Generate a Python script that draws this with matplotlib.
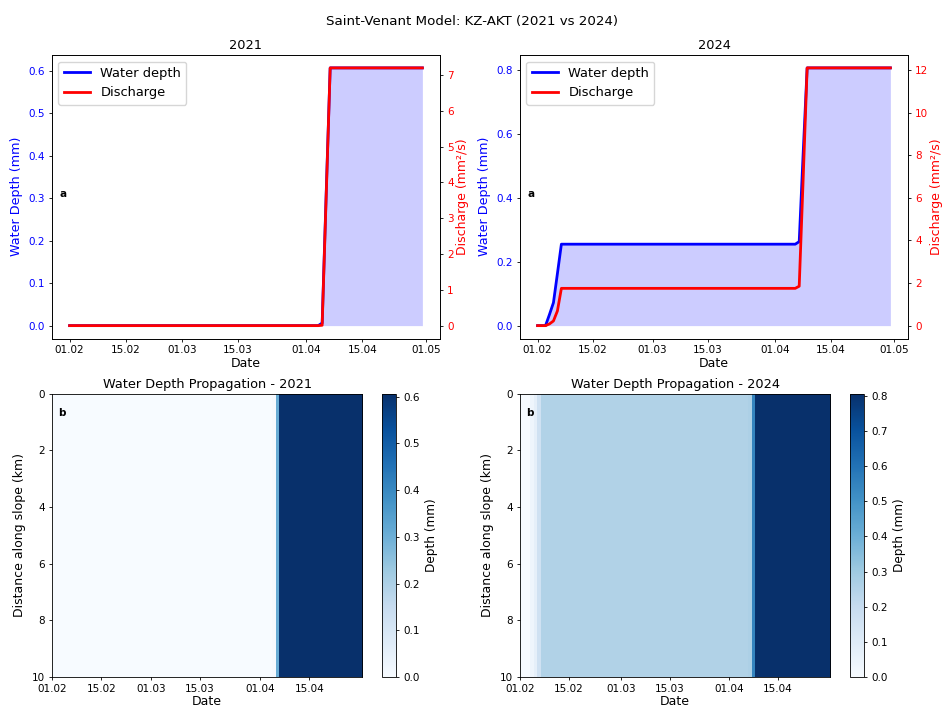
import numpy as np
import pandas as pd
import matplotlib
matplotlib.use('Agg')
import matplotlib.pyplot as plt
import matplotlib.dates as mdates
from matplotlib.ticker import MultipleLocator

# daily values (01.02 - 30.04)
dates_2021 = pd.date_range('2021-02-01', '2021-04-30', freq='D')
depth_2021 = [0.0] * 63 + [0.006, 0.31] + [0.607] * 24          # mm
discharge_2021 = [0.0] * 63 + [0.01, 3.6] + [7.2] * 24          # mm2/s

dates_2024 = pd.date_range('2024-02-01', '2024-04-30', freq='D')
depth_2024 = [0.0] * 3 + [0.035, 0.072, 0.163] + [0.255] * 60 + [0.263, 0.54] + [0.807] * 22
discharge_2024 = [0.0] * 3 + [0.08, 0.22, 0.69] + [1.75] * 60 + [1.85, 6.9] + [12.1] * 22

slope_length_km = 10
n_nodes = 50

years = [
    ('2021', dates_2021, depth_2021, discharge_2021, 0.1),
    ('2024', dates_2024, depth_2024, discharge_2024, 0.2),
]

plt.rcParams['font.size'] = 7.5
plt.rcParams['axes.linewidth'] = 0.6
for a in ('xtick', 'ytick'):
    plt.rcParams[a + '.major.size'] = 2.5
    plt.rcParams[a + '.major.width'] = 0.6
    plt.rcParams[a + '.major.pad'] = 2.5

fig, axes = plt.subplots(2, 2, figsize=(9.43, 7.07), dpi=100)
fig.subplots_adjust(left=0.0551, right=0.9629, top=0.9222, bottom=0.0424,
                    wspace=0.206, hspace=0.194)
fig.suptitle('Saint-Venant Model: KZ-AKT (2021 vs 2024)', fontsize=9.6, y=0.979)


def date_axis(ax):
    ax.xaxis.set_major_locator(mdates.DayLocator(bymonthday=[1, 15]))
    ax.xaxis.set_major_formatter(mdates.DateFormatter('%d.%m'))


for col, (year, dates, depth, q, ystep) in enumerate(years):
    # --- time series ---
    ax = axes[0, col]
    l1, = ax.plot(dates, depth, color='b', lw=2, label='Water depth')
    ax.fill_between(dates, depth, color='b', alpha=0.2, lw=0)
    ax.set_ylabel('Water Depth (mm)', color='b', fontsize=9.2)
    ax.tick_params(axis='y', labelcolor='b')
    ax.yaxis.set_major_locator(MultipleLocator(ystep))
    ax.set_xlabel('Date', fontsize=9, labelpad=1)
    ax.set_title(year, fontsize=9.3, pad=4)
    date_axis(ax)

    ax2 = ax.twinx()
    l2, = ax2.plot(dates, q, color='r', lw=2, label='Discharge')
    ax2.set_ylabel('Discharge (mm²/s)', color='r', fontsize=9.0, labelpad=1.5)
    ax2.tick_params(axis='y', labelcolor='r')
    ax.legend([l1, l2], ['Water depth', 'Discharge'], loc='upper left', fontsize=9.4)
    ax.text(0.02, 0.5, 'a', transform=ax.transAxes, fontweight='bold', fontsize=7.5)

    # --- propagation heatmap ---
    axh = axes[1, col]
    field = np.tile(np.array(depth), (n_nodes, 1))
    x0 = mdates.date2num(dates[0])
    x1 = mdates.date2num(dates[-1])
    im = axh.imshow(field, aspect='auto', cmap='Blues', origin='upper',
                    extent=[x0, x1, slope_length_km, 0],
                    vmin=0, vmax=max(depth))
    axh.xaxis_date()
    date_axis(axh)
    axh.set_xlabel('Date', fontsize=9, labelpad=1)
    axh.set_ylabel('Distance along slope (km)', fontsize=9)
    axh.set_title(f'Water Depth Propagation - {year}', fontsize=9.3, pad=4)
    axh.text(0.02, 0.95, 'b', transform=axh.transAxes, fontweight='bold',
             fontsize=7.5, va='top')
    cb = fig.colorbar(im, ax=axh)
    cb.set_label('Depth (mm)', fontsize=8.7)
    cb.outline.set_linewidth(0.6)

plt.savefig('out.png', dpi=100)
